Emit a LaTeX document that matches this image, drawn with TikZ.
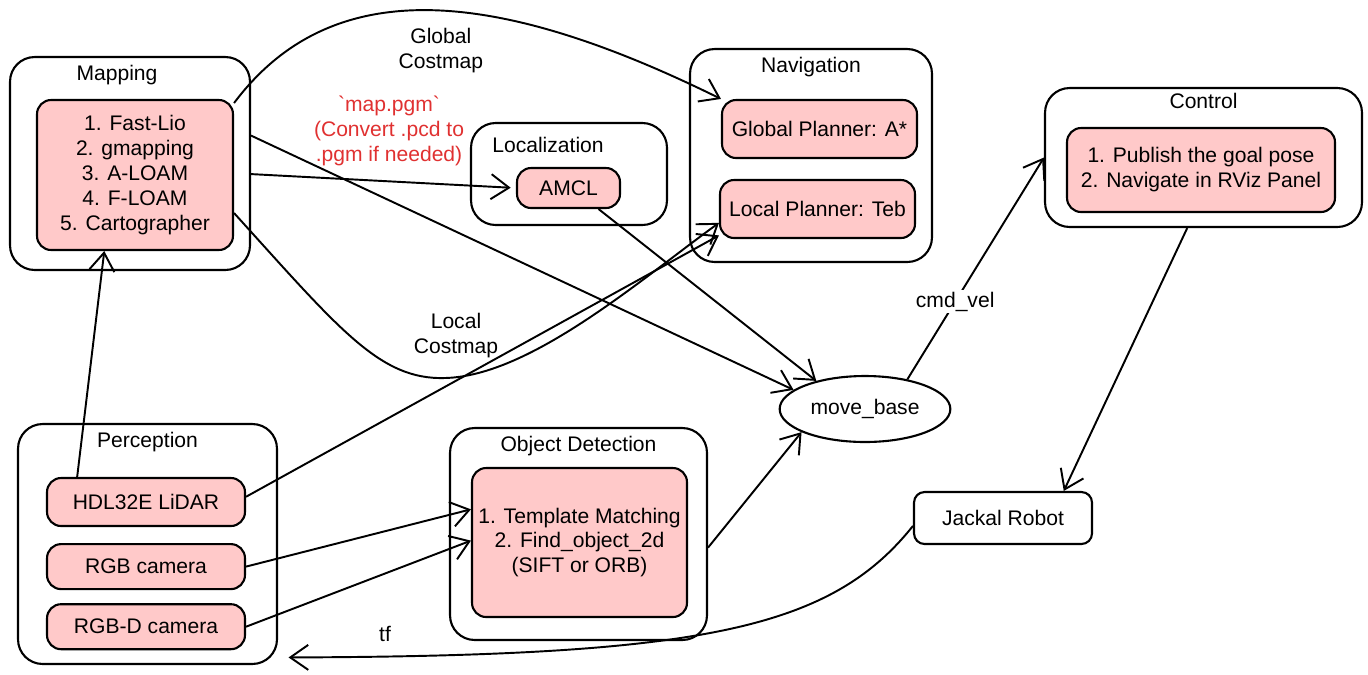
\documentclass[tikz,border=0pt]{standalone}
\usepackage{fontspec}
\setmainfont{Liberation Sans}
\usepackage{tikz}
\usetikzlibrary{positioning,shapes.geometric,arrows.meta}
\definecolor{boxpink}{HTML}{FFC9C9}
\definecolor{notered}{HTML}{E03131}

\begin{document}
\begin{tikzpicture}[x=0.02cm, y=-0.02cm, node distance=0.18cm, font=\fontsize{12}{14.2}\selectfont]
    \tikzstyle{group} = [rectangle, rounded corners=14pt, draw=black, line width=1.2pt]
    \tikzstyle{block} = [rectangle, rounded corners=8pt, draw=black, line width=1.2pt, fill=boxpink, align=center]
    \tikzstyle{title} = [inner sep=0pt]
    \tikzstyle{edgetext} = [align=center, inner sep=1pt]
    \tikzstyle{arrow} = [line width=1.1pt,->,>={Straight Barb[length=3.6mm,width=5mm]}]

    \useasboundingbox (0,0) rectangle (1368,674);

    % mapping
    \node (mapping) [group, minimum width=4.8cm, minimum height=4.26cm] at (130,163.5) {};
    \node (maptitle) [title, below=of mapping.north, xshift=-0.26cm] {Mapping};
    \node (mapalgo) [block, minimum width=3.92cm, minimum height=3cm] at (135,175) {1. Fast-Lio\\2. gmapping\\3. A-LOAM\\4. F-LOAM\\5. Cartographer};

    % localization
    \node (localization) [group, minimum width=3.92cm, minimum height=2.04cm] at (569,174) {};
    \node (loctitle) [title, below=0.3cm of localization.north, xshift=-0.42cm] {Localization};
    \node (amcl) [block, minimum width=2.06cm, minimum height=0.8cm] at (568.5,188) {AMCL};

    % navigation
    \node (navigation) [group, minimum width=4.84cm, minimum height=4.26cm] at (811,155.5) {};
    \node (navtitle) [title, below=of navigation.north] {Navigation};
    \node (globalplan) [block, minimum width=3.9cm, minimum height=1.16cm] at (819.5,129) {Global Planner: A*};
    \node (localplan) [block, minimum width=3.9cm, minimum height=1.16cm] at (817.5,209) {Local Planner: Teb};

    % control
    \node (control) [group, minimum width=6.34cm, minimum height=2.78cm] at (1203.5,157.5) {};
    \node (ctrltitle) [title, below=0.12cm of control.north] {Control};
    \node (ctrlsteps) [block, minimum width=5.36cm, minimum height=1.68cm] at (1201,170) {1. Publish the goal pose\\2. Navigate in RViz Panel};

    % perception
    \node (perception) [group, minimum width=5.18cm, minimum height=4.8cm] at (147.5,544) {};
    \node (perctitle) [title, below=of perception.north] {Perception};
    \node (lidar) [block, minimum width=3.96cm, minimum height=0.96cm] at (146,502) {HDL32E LiDAR};
    \node (rgbcam) [block, minimum width=3.96cm, minimum height=0.9cm, below=0.32cm of lidar] {RGB camera};
    \node (rgbdcam) [block, minimum width=3.96cm, minimum height=0.9cm, below=0.26cm of rgbcam] {RGB-D camera};

    % object detection
    \node (objdet) [group, minimum width=5.14cm, minimum height=4.24cm] at (578.5,534) {};
    \node (dettitle) [title, below=of objdet.north] {Object Detection};
    \node (detect) [block, minimum width=4.3cm, minimum height=2.98cm] at (579.5,542.5) {1. Template Matching\\2. Find\_object\_2d\\(SIFT or ORB)};

    \node (movebase) [ellipse, draw=black, line width=1.2pt, minimum width=3.28cm, minimum height=1.32cm] at (865,409) {move\_base};
    \node (jackal) [rectangle, rounded corners=6pt, draw=black, line width=1.2pt, minimum width=3.56cm, minimum height=1.04cm] at (1003,518) {Jackal Robot};

    \node (pgmnote) [edgetext, text=notered] at (389,131) {\textasciigrave map.pgm\textasciigrave\\(Convert .pcd to\\.pgm if needed)};

    \draw [arrow] (mapalgo.36) .. controls (330,-25) and (490,-15) .. node[edgetext, pos=0.5, below=0.3cm, xshift=0.28cm] {Global\\Costmap} (globalplan.north west);
    \draw [arrow] (mapping.13) -- (movebase.165);
    \draw [arrow, shorten >=3pt] (mapping.-5) -- (amcl.west);
    \draw [arrow] (mapalgo.-21) .. controls (340,330) and (380,380) .. (445,378) node[edgetext, above=0.35cm, xshift=0.22cm] {Local\\Costmap} .. controls (530,376) and (640,280) .. (localplan.188);
    \draw [arrow] (amcl.-35) -- (movebase.150);
    \draw [arrow] (lidar.3) -- (localplan.195);
    \draw [arrow] (lidar.160) -- (mapalgo.248);
    \draw [arrow] (rgbcam.0) -- (detect.163);
    \draw [arrow] (rgbdcam.0) -- (detect.179);
    \draw [arrow] (objdet.-6) -- (movebase.200);
    \draw [arrow] (movebase.35) -- node[edgetext, pos=0.35, fill=white] {cmd\_vel} (control.west);
    \draw [arrow] (control.257) -- (jackal.24);
    \draw [arrow, shorten >=6pt] (jackal.185) .. controls (830,630) and (700,656) .. node[edgetext, pos=0.91, above=0.25cm] {tf} (perception.-41);
\end{tikzpicture}
\end{document}
